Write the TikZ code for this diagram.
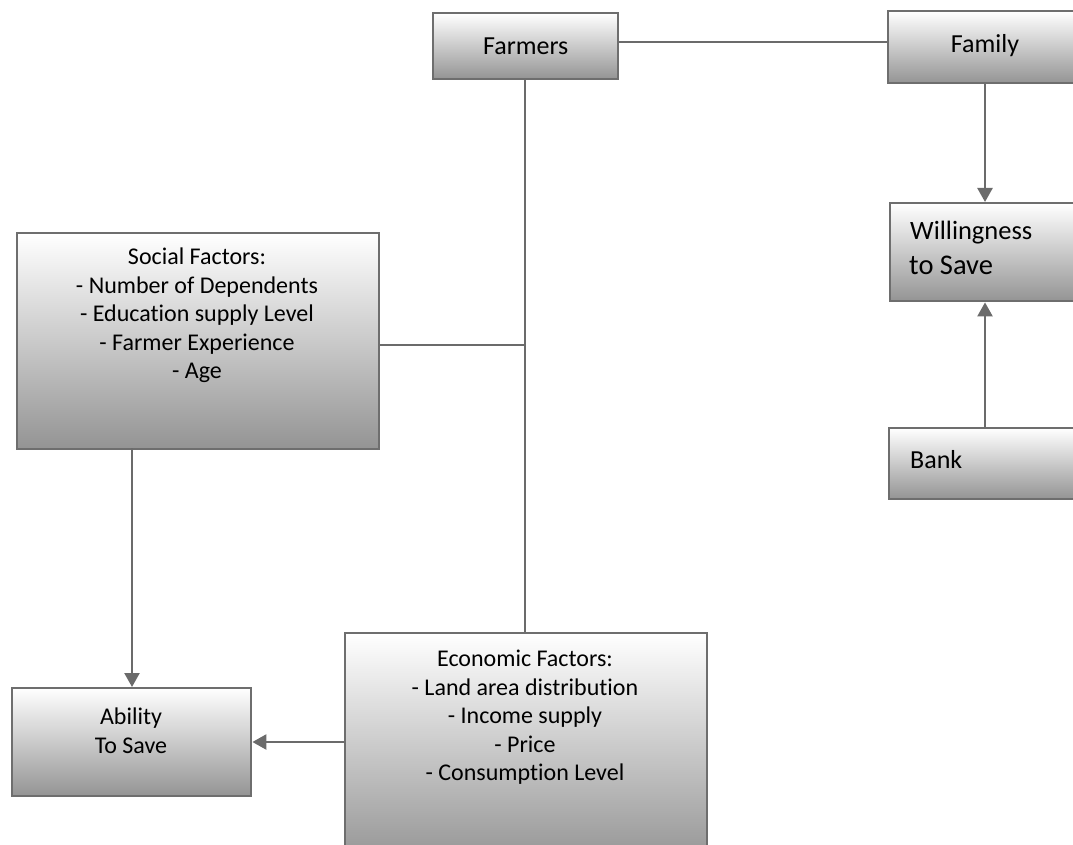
\documentclass[tikz,border=0pt]{standalone}
\usepackage{fontspec}
\setmainfont{Carlito}[Ligatures=NoCommon]
\usetikzlibrary{arrows.meta}
\definecolor{boxgray}{HTML}{6E6E6E}
\definecolor{linegray}{HTML}{6B6B6B}
\begin{document}
\begin{tikzpicture}[x=1pt,y=-1pt,
  box/.style={draw=boxgray, line width=2.4pt, top color=white, bottom color=black!42,
              inner sep=0pt, anchor=north west},
  txt/.style={font=\fontsize{24}{28.5}\selectfont, align=center, inner sep=0pt},
  big/.style={font=\fontsize{26}{30}\selectfont},
  conn/.style={draw=linegray, line width=2.4pt},
  arr/.style={conn, -{Triangle[length=14pt, width=15pt]}}]
\useasboundingbox (0,0) rectangle (1073,845);
% boxes
\node[box, minimum width=185pt, minimum height=66pt] (farmers) at (432,12) {};
\node[box, minimum width=196pt, minimum height=72pt] (family) at (887,10) {};
\node[box, minimum width=194pt, minimum height=98pt] (will) at (889,202) {};
\node[box, minimum width=194pt, minimum height=71pt] (bank) at (888,427) {};
\node[box, minimum width=362pt, minimum height=216pt] (social) at (16,232) {};
\node[box, minimum width=239pt, minimum height=108pt] (ability) at (11,687) {};
\node[box, minimum width=362pt, minimum height=230pt] (econ) at (344,632) {};
% texts
\node[txt, big] (farmerst) at (farmers.center) {Farmers};
\node[txt, big] (familyt) at (985,46) {Family};
\node[txt, anchor=west, font=\fontsize{26.5}{30}\selectfont] (willt1) at (910,233) {Willingness};
\node[txt, anchor=west, font=\fontsize{28.5}{32}\selectfont] (willt2) at (909,265) {to Save};
\node[txt, big, anchor=west] (bankt) at (910,460) {Bank};
\node[txt, anchor=north] (socialt) at (197,248) {Social Factors:\\- Number of Dependents\\- Education supply Level\\- Farmer Experience\\- Age};
\node[txt, anchor=north] (abilityt) at (131,708) {Ability\\To Save};
\node[txt, anchor=north] (econt) at (525,650) {Economic Factors:\\- Land area distribution\\- Income supply\\- Price\\- Consumption Level};
% connectors
\coordinate (junc) at (525,345);
\draw[conn] (farmers.east |- 0,42) -- (family.west |- 0,42);
\draw[conn] (farmers.south -| junc) -- (econ.north -| junc);
\draw[conn] (social.east |- junc) -- (junc);
\draw[arr] (132,448) -- (ability.north -| 132,0);
\draw[arr] (econ.west |- 0,742) -- (ability.east |- 0,742);
\draw[arr] (family.south -| 985,0) -- (will.north -| 985,0);
\draw[arr] (bank.north -| 985,0) -- (will.south -| 985,0);
\end{tikzpicture}
\end{document}
